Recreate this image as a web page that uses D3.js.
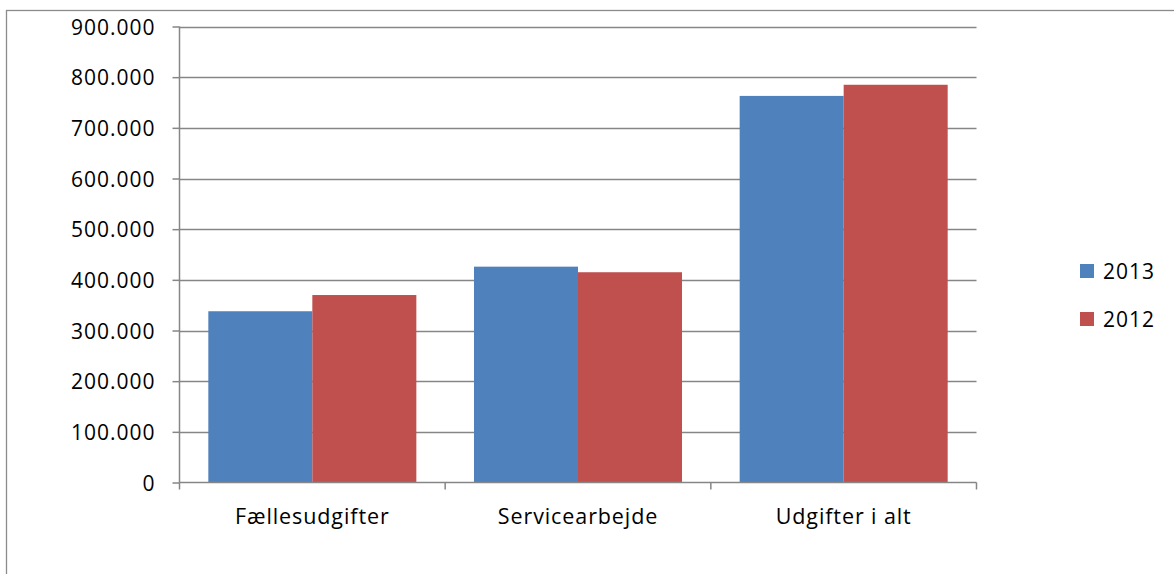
<!DOCTYPE html>
<html><head><meta charset="utf-8">
<script src="https://cdn.jsdelivr.net/npm/d3@7"></script>
<style>body{margin:0;background:#fff;} svg{display:block;} text{font-family:"Open Sans",sans-serif;fill:#000;}</style>
</head><body>
<svg id="c" width="1174" height="574"></svg>
<script>
const categories = ["Fællesudgifter", "Servicearbejde", "Udgifter i alt"];
const seriesNames = ["2013", "2012"];
const values2013 = [338000, 426000, 763000];
const values2012 = [370000, 415000, 785000];
const yTicks = [0, 100000, 200000, 300000, 400000, 500000, 600000, 700000, 800000, 900000];
const colors = ["#4F81BD", "#C0504D"];

(function () {
const svg = d3.select("#c");
const pLeft = 179.5, pRight = 976.5, pTop = 26.5, pBottom = 482.5;

// outer border
svg.append("rect").attr("x", 6.5).attr("y", 10.5).attr("width", 1200).attr("height", 600)
  .attr("fill", "none").attr("stroke", "#8c8c8c").attr("stroke-width", 1.3);

const x = d3.scaleBand().domain(categories).range([pLeft, pRight]).paddingInner(0).paddingOuter(0);
const y = d3.scaleLinear().domain([0, 900000]).range([pBottom, pTop]);
const fmt = v => v === 0 ? "0" : d3.format(",")(v).replace(/,/g, ".");

// gridlines
svg.append("g").selectAll("line").data(yTicks.filter(d => d > 0)).join("line")
  .attr("x1", pLeft).attr("x2", pRight).attr("y1", d => Math.round(y(d)) + 0.5).attr("y2", d => Math.round(y(d)) + 0.5)
  .attr("stroke", "#868686").attr("stroke-width", 1.5);

// bars
const inner = x.bandwidth() * 0.783;
const sub = d3.scaleBand().domain(seriesNames).range([0, inner]);
const data = [values2013, values2012];
seriesNames.forEach((s, si) => {
  svg.append("g").selectAll("rect").data(categories).join("rect")
    .attr("x", c => x(c) + (x.bandwidth() - inner) / 2 + sub(s))
    .attr("width", sub.bandwidth())
    .attr("y", (c, i) => y(data[si][i]))
    .attr("height", (c, i) => y(0) - y(data[si][i]))
    .attr("fill", colors[si]);
});

// y axis
const yAxis = d3.axisLeft(y).tickValues(yTicks).tickFormat(fmt).tickSize(7).tickPadding(17);
const yg = svg.append("g").attr("transform", `translate(${pLeft},0)`).call(yAxis);
yg.select(".domain").attr("d", `M0,${pTop}V${pBottom}`).attr("stroke", "#868686").attr("stroke-width", 1.5);
yg.selectAll(".tick line").attr("stroke", "#868686").attr("stroke-width", 1.5);
yg.selectAll(".tick text").style("font-size", "21px").attr("letter-spacing", "1px").attr("dy", "0.36em");

// x axis
const xg = svg.append("g").attr("transform", `translate(0,${pBottom})`);
xg.append("line").attr("x1", pLeft).attr("x2", pRight).attr("y1", 0).attr("y2", 0).attr("stroke", "#868686").attr("stroke-width", 1.5);
const bounds = categories.map(c => x(c)).concat([pRight]);
xg.selectAll("line.t").data(bounds).join("line").attr("class", "t")
  .attr("x1", d => d).attr("x2", d => d).attr("y1", 0).attr("y2", 7).attr("stroke", "#868686").attr("stroke-width", 1.5);
xg.selectAll("text").data(categories).join("text")
  .attr("x", c => x(c) + x.bandwidth() / 2).attr("y", 41).attr("text-anchor", "middle")
  .style("font-size", "21.5px").attr("letter-spacing", "0.9px").text(c => c);

// legend
const lg = svg.append("g");
seriesNames.forEach((s, i) => {
  const yy = 264 + i * 48;
  lg.append("rect").attr("x", 1080).attr("y", yy).attr("width", 14).attr("height", 14).attr("fill", colors[i]);
  lg.append("text").attr("x", 1103).attr("y", yy + 15).style("font-size", "21px").attr("letter-spacing", "1px").text(s);
});
})();
</script>
</body></html>
